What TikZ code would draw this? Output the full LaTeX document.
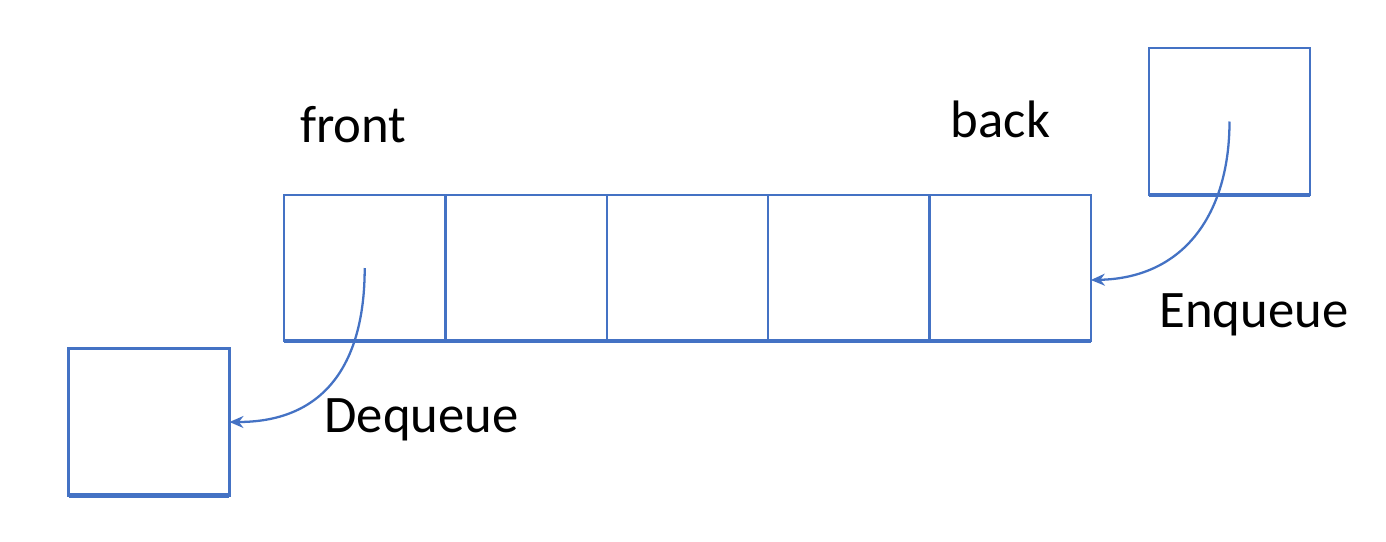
\documentclass[tikz,border=0pt]{standalone}
\usepackage{fontspec}
\setmainfont{Carlito}
\usepackage{tikz}
\usepackage{xcolor}
\usetikzlibrary{positioning,arrows.meta}

\definecolor{qblue}{HTML}{4472C4}

\tikzset{
  qcell/.style={draw=qblue, line width=1.4pt, outer sep=0pt, inner sep=0pt,
    minimum width=3.228cm, minimum height=2.92cm},
  qbox/.style={draw=qblue, line width=1.4pt, outer sep=0pt, inner sep=0pt,
    minimum width=3.22cm, minimum height=2.94cm},
  qbase/.style={draw=qblue, line width=2.4pt},
  qarrow/.style={draw=qblue, line width=1.3pt, -{Stealth[length=0.28cm,width=0.24cm]}},
  qlabel/.style={font=\fontsize{30}{34}\selectfont, anchor=base, inner sep=0pt}
}

\begin{document}
\begin{tikzpicture}[x=0.02cm, y=-0.02cm]
	\useasboundingbox (0,0) rectangle (1386,541);
	% the queue
	\node[qcell] (c1) at (364.7,268) {};
	\node[qcell, right=0pt of c1] (c2) {};
	\node[qcell, right=0pt of c2] (c3) {};
	\node[qcell, right=0pt of c3] (c4) {};
	\node[qcell, right=0pt of c4] (c5) {};
	\draw[qbase] (c1.south west) -- (c5.south east);
	% element coming in and going out
	\node[qbox] (enq) at (1229.5,121.5) {};
	\draw[qbase] (enq.south west) -- (enq.south east);
	\node[qbox] (deq) at (149,422) {};
	\draw[qbase] (deq.south west) -- (deq.south east);
	% labels
	\node[qlabel] (front) at (353.5,142) {front};
	\node[qlabel] (back) at (1000.5,137) {back};
	\node[qlabel] (enqtext) at (1254,327) {Enqueue};
	\node[qlabel] (deqtext) at (421.5,432) {Dequeue};
	% arrows
	\draw[qarrow] (c1.center) .. controls +(0,92) and +(98,0) .. (deq.east);
		\draw[qarrow] (enq.center) .. controls +(0,90) and +(95,-2) .. ([yshift=-0.24cm]c5.east);
\end{tikzpicture}
\end{document}
